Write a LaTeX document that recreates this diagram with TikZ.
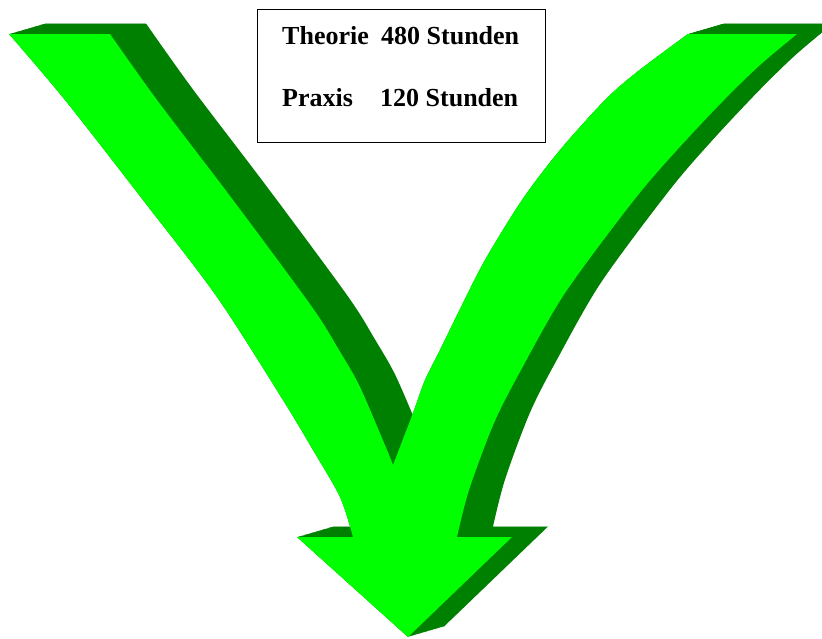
\documentclass[tikz,border=0pt]{standalone}
\usepackage{fontspec}
\setmainfont{Liberation Serif}
\usepackage{tikz}
\usetikzlibrary{positioning}
\definecolor{arrowfront}{HTML}{00FF00}
\definecolor{arrowside}{HTML}{008000}
\tikzset{
  frontface/.style={fill=arrowfront, draw=none},
  sideface/.style={fill=arrowside, draw=none},
  hoursbox/.style={draw=black, line width=1.6pt, minimum width=288pt, minimum height=133pt, inner sep=0pt},
  hourstext/.style={font=\fontsize{26}{30}\selectfont\bfseries, inner sep=0pt, anchor=base west},
  bigarrow/.pic={
    \path[pic actions]
      plot[smooth] coordinates {(9,34) (65,100) (143,200) (217,297) (283,400) (313,450) (340,497) (353,537)}
      -- (297,537) -- (408,637) -- (512,537) -- (457,537)
      -- plot[smooth] coordinates {(457,537) (469,490) (494,423) (521,370) (565,293) (634,200) (677,150) (724,100) (760,65) (797,34)}
      -- (688,34)
      -- plot[smooth] coordinates {(688,34) (637,72) (605,100) (560,150) (522,200) (485,260) (461,307) (440,350) (425,380) (413,413) (393,465)}
      -- plot[smooth] coordinates {(393,465) (387,450) (360,387) (339,350) (312,307) (233,200) (157,100) (110,34)}
      -- cycle;
  }
}

\begin{document}
\begin{tikzpicture}[x=1pt, y=-1pt]
  \clip (0,0) rectangle (822,638);
  % extruded side of the arrow
  \foreach \t in {0,...,36}{
    \pic[sideface] at (\t,-0.2917*\t) {bigarrow};
  }
  % front face
  \pic[frontface] at (0,0) {bigarrow};
  % hours box
  \node[hoursbox] (box) at (401.5,76) {};
  \node[hourstext] (theorie) at (282,44) {Theorie};
  \node[hourstext] (theoriehours) at (381,44) {480 Stunden};
  \node[hourstext] (praxis) at (282,106) {Praxis};
  \node[hourstext] (praxishours) at (380,106) {120 Stunden};
\end{tikzpicture}
\end{document}
